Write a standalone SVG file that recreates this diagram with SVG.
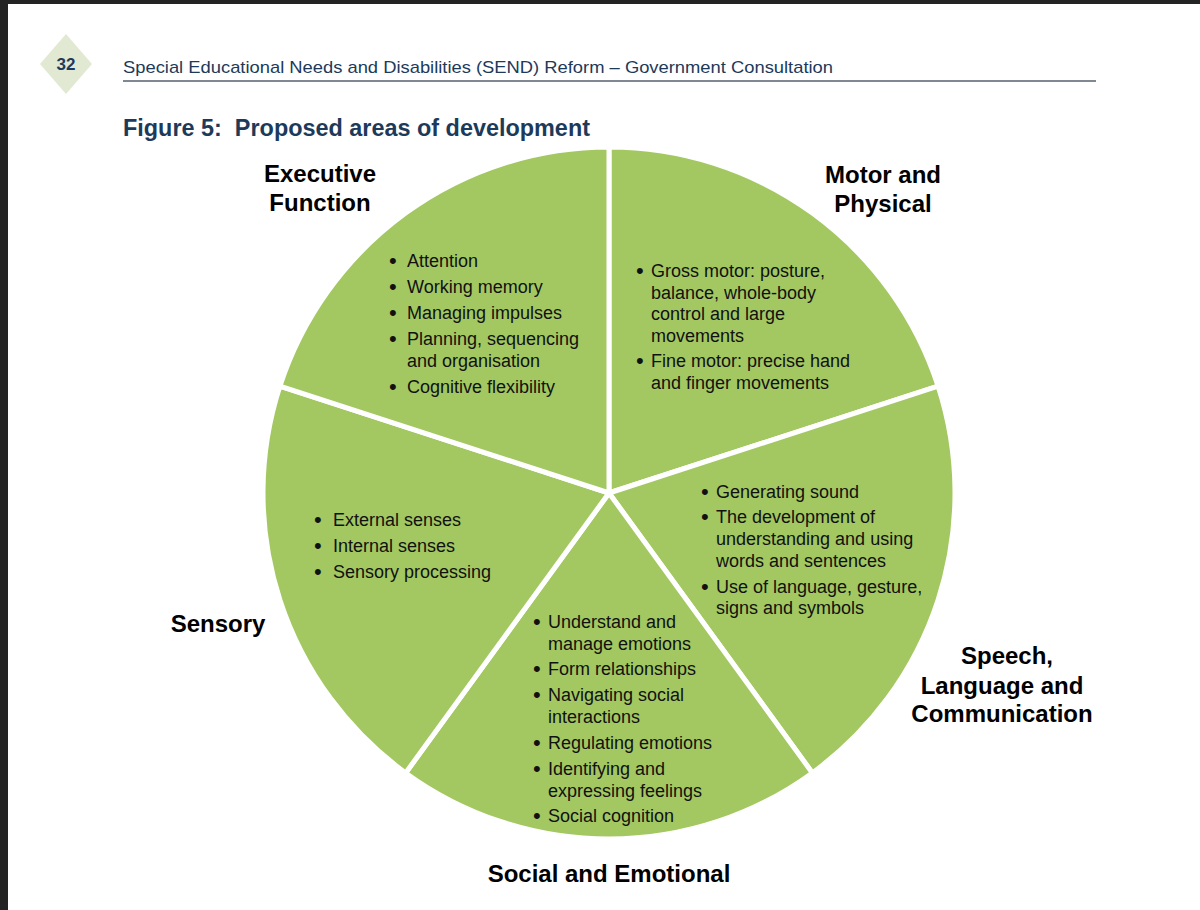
<svg xmlns="http://www.w3.org/2000/svg" width="1200" height="910" viewBox="0 0 1200 910">
<style>
.seg{fill:#a3c862;stroke:#ffffff;stroke-width:5;stroke-linejoin:miter}
.lbl{font-family:"Liberation Sans",Arial,sans-serif;font-weight:bold;font-size:24px;fill:#000000;text-anchor:middle}
.it{font-family:"Liberation Sans",Arial,sans-serif;font-size:18px;fill:#111111}
.bu{font-family:"Liberation Sans",Arial,sans-serif;font-size:22px;fill:#111111}
.hdr{font-family:"Liberation Sans",Arial,sans-serif;fill:#1d3a5a}
</style>
<rect x="0" y="0" width="1200" height="910" fill="#ffffff"/>
<rect x="0" y="0" width="1200" height="4" fill="#232323"/>
<rect x="0" y="0" width="8" height="910" fill="#232323"/>

<g id="header">
<polygon points="66,34 92,64 66,94 40,64" fill="#e2e9d2"/>
<text x="66" y="70" class="hdr" font-size="17" font-weight="bold" text-anchor="middle">32</text>
<text x="123" y="73" class="hdr" font-size="17" textLength="710" lengthAdjust="spacingAndGlyphs">Special Educational Needs and Disabilities (SEND) Reform – Government Consultation</text>
<line x1="123" y1="81" x2="1096" y2="81" stroke="#56616c" stroke-width="1.5"/>
<text x="123" y="136" class="hdr" font-size="23" font-weight="bold" fill="#1b3f66" textLength="467" lengthAdjust="spacingAndGlyphs" xml:space="preserve">Figure 5:  Proposed areas of development</text>
</g>

<g id="motor">
<path class="seg" d="M609,493 L609,147 A346,346 0 0 1 938.07,386.08 Z"/>
<text class="lbl" x="883" y="183">Motor and</text>
<text class="lbl" x="883" y="212">Physical</text>
<text class="bu" x="636" y="278">•</text>
<text class="it" x="651" y="277">Gross motor: posture,</text>
<text class="it" x="651" y="299">balance, whole-body</text>
<text class="it" x="651" y="320">control and large</text>
<text class="it" x="651" y="342">movements</text>
<text class="bu" x="636" y="368">•</text>
<text class="it" x="651" y="367">Fine motor: precise hand</text>
<text class="it" x="651" y="389">and finger movements</text>
</g>

<g id="speech">
<path class="seg" d="M609,493 L938.07,386.08 A346,346 0 0 1 812.37,772.92 Z"/>
<text class="lbl" x="1007" y="664">Speech,</text>
<text class="lbl" x="1002" y="694">Language and</text>
<text class="lbl" x="1002" y="722">Communication</text>
<text class="bu" x="701" y="499">•</text>
<text class="it" x="716" y="498">Generating sound</text>
<text class="bu" x="701" y="524">•</text>
<text class="it" x="716" y="523">The development of</text>
<text class="it" x="716" y="545">understanding and using</text>
<text class="it" x="716" y="567">words and sentences</text>
<text class="bu" x="701" y="594">•</text>
<text class="it" x="716" y="593">Use of language, gesture,</text>
<text class="it" x="716" y="614">signs and symbols</text>
</g>

<g id="social">
<path class="seg" d="M609,493 L812.37,772.92 A346,346 0 0 1 405.63,772.92 Z"/>
<text class="lbl" x="609" y="882">Social and Emotional</text>
<text class="bu" x="533" y="629">•</text>
<text class="it" x="548" y="628">Understand and</text>
<text class="it" x="548" y="650">manage emotions</text>
<text class="bu" x="533" y="676">•</text>
<text class="it" x="548" y="675">Form relationships</text>
<text class="bu" x="533" y="702">•</text>
<text class="it" x="548" y="701">Navigating social</text>
<text class="it" x="548" y="723">interactions</text>
<text class="bu" x="533" y="750">•</text>
<text class="it" x="548" y="749">Regulating emotions</text>
<text class="bu" x="533" y="776">•</text>
<text class="it" x="548" y="775">Identifying and</text>
<text class="it" x="548" y="797">expressing feelings</text>
<text class="bu" x="533" y="823">•</text>
<text class="it" x="548" y="822">Social cognition</text>
</g>

<g id="sensory">
<path class="seg" d="M609,493 L405.63,772.92 A346,346 0 0 1 279.93,386.08 Z"/>
<text class="lbl" x="218" y="632">Sensory</text>
<text class="bu" x="314" y="527">•</text>
<text class="it" x="333" y="526">External senses</text>
<text class="bu" x="314" y="553">•</text>
<text class="it" x="333" y="552">Internal senses</text>
<text class="bu" x="314" y="579">•</text>
<text class="it" x="333" y="578">Sensory processing</text>
</g>

<g id="executive">
<path class="seg" d="M609,493 L279.93,386.08 A346,346 0 0 1 609,147 Z"/>
<text class="lbl" x="320" y="182">Executive</text>
<text class="lbl" x="320" y="211">Function</text>
<text class="bu" x="389" y="268">•</text>
<text class="it" x="407" y="267">Attention</text>
<text class="bu" x="389" y="294">•</text>
<text class="it" x="407" y="293">Working memory</text>
<text class="bu" x="389" y="320">•</text>
<text class="it" x="407" y="319">Managing impulses</text>
<text class="bu" x="389" y="346">•</text>
<text class="it" x="407" y="345">Planning, sequencing</text>
<text class="it" x="407" y="367">and organisation</text>
<text class="bu" x="389" y="394">•</text>
<text class="it" x="407" y="393">Cognitive flexibility</text>
</g>

<g id="connectors"></g>
</svg>
